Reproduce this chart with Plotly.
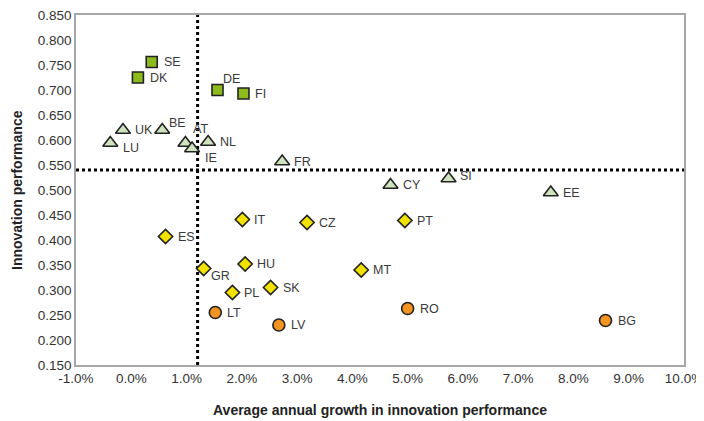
import plotly.graph_objects as go

# Leaders (squares)
lead_names = ["SE", "DK", "DE", "FI"]
lead_x = [0.37, 0.12, 1.56, 2.03]
lead_y = [0.756, 0.725, 0.700, 0.693]

# Followers (triangles)
foll_names = ["UK", "LU", "BE", "AT", "IE", "NL", "FR", "CY", "SI", "EE"]
foll_x = [-0.15, -0.38, 0.56, 0.98, 1.10, 1.39, 2.73, 4.69, 5.74, 7.59]
foll_y = [0.620, 0.594, 0.620, 0.594, 0.583, 0.596, 0.557, 0.510, 0.523, 0.495]

# Moderate innovators (diamonds)
mod_names = ["IT", "CZ", "ES", "HU", "GR", "PL", "SK", "MT", "PT"]
mod_x = [2.01, 3.18, 0.62, 2.06, 1.31, 1.83, 2.52, 4.16, 4.95]
mod_y = [0.441, 0.435, 0.407, 0.352, 0.343, 0.295, 0.305, 0.340, 0.439]

# Modest innovators (circles)
modest_names = ["LT", "LV", "RO", "BG"]
modest_x = [1.52, 2.67, 5.00, 8.58]
modest_y = [0.255, 0.230, 0.263, 0.239]

# Reference lines (EU averages)
avg_growth = 1.20
avg_perf = 0.540

x_ticks = [-1, 0, 1, 2, 3, 4, 5, 6, 7, 8, 9, 10]
y_ticks = [0.15, 0.2, 0.25, 0.3, 0.35, 0.4, 0.45, 0.5, 0.55, 0.6, 0.65, 0.7, 0.75, 0.8, 0.85]

# label placement (pixel offsets from marker centre); default is to the right
label_offsets = {
    "DE": (3, -11), "BE": (5, -7), "AT": (6, -14), "IE": (11, 9),
    "LU": (11, 5), "SI": (9, -3), "GR": (5, 7),
}
default_offset = (10, 0)

label_font = dict(family="Liberation Sans, Arial", size=12.5, color="#3a3a3a")

fig = go.Figure()


def add_group(names, xs, ys, symbol, color, size):
    fig.add_trace(go.Scatter(
        x=xs, y=ys, mode="markers",
        marker=dict(symbol=symbol, color=color, size=size,
                    line=dict(color="#222222", width=1.6)),
        showlegend=False, hovertext=names,
    ))
    for n, x, y in zip(names, xs, ys):
        dx, dy = label_offsets.get(n, default_offset)
        fig.add_annotation(x=x, y=y, xref="x", yref="y", text=n, showarrow=False,
                           xanchor="left", yanchor="middle", xshift=dx, yshift=-dy,
                           font=label_font)


fig.add_shape(type="line", x0=avg_growth, x1=avg_growth, y0=0.15, y1=0.85,
              xref="x", yref="y", line=dict(color="black", width=3, dash="dot"), layer="below")
fig.add_shape(type="line", x0=-1, x1=10, y0=avg_perf, y1=avg_perf,
              xref="x", yref="y", line=dict(color="black", width=3, dash="dot"), layer="below")

add_group(lead_names, lead_x, lead_y, "square", "#8DBA1C", 11)
add_group(foll_names, foll_x, foll_y, "triangle-up", "#CFE3BF", 13)
add_group(mod_names, mod_x, mod_y, "diamond", "#F2E200", 11)
add_group(modest_names, modest_x, modest_y, "circle", "#F39320", 12)

fig.add_annotation(text="<b>Average annual growth in innovation performance</b>",
                   xref="paper", yref="paper", x=0.5, y=0, yshift=-45,
                   xanchor="center", yanchor="middle", showarrow=False,
                   font=dict(size=14, color="#222222"))
fig.add_annotation(text="<b>Innovation performance</b>",
                   xref="paper", yref="paper", x=0, y=0.5, xshift=-59,
                   xanchor="center", yanchor="middle", textangle=-90, showarrow=False,
                   font=dict(size=14, color="#222222"))

fig.update_layout(
    width=696, height=413,
    margin=dict(l=68, r=20, t=7, b=56),
    paper_bgcolor="white", plot_bgcolor="white",
    font=dict(family="Liberation Sans, Arial", color="#333333"),
    xaxis=dict(
        range=[-1, 10], tickvals=x_ticks,
        ticktext=[f"{v:.1f}%" for v in x_ticks],
        showgrid=False, zeroline=False, automargin=False, ticklabeloverflow="allow",
        showline=True, linecolor="#A6A6A6", linewidth=1.5, mirror=True,
        ticks="", tickfont=dict(size=13.5, color="#333333"),
    ),
    yaxis=dict(
        range=[0.15, 0.85], tickvals=y_ticks,
        ticktext=[f"{v:.3f}" for v in y_ticks],
        showgrid=False, zeroline=False, automargin=False, ticklabeloverflow="allow",
        showline=True, linecolor="#A6A6A6", linewidth=1.5, mirror=True,
        ticks="", tickfont=dict(size=13.5, color="#333333"),
    ),
)

fig.write_html("out.html")
